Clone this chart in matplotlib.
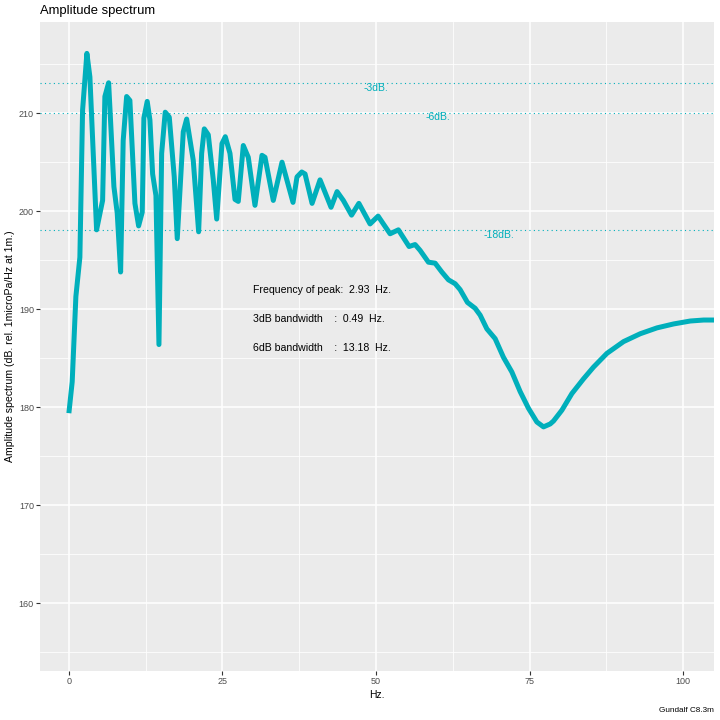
import numpy as np
import matplotlib
matplotlib.use("Agg")
import matplotlib.pyplot as plt
from matplotlib.ticker import MultipleLocator

plt.rcParams['font.family'] = ['Liberation Sans', 'DejaVu Sans']

# spectrum (Hz, dB)
freq = [0.0, 0.54, 1.14, 1.79, 2.23, 2.93, 3.42, 4.51, 5.49, 5.86, 6.47, 7.33,
        7.87, 8.42, 8.84, 9.40, 9.93, 10.75, 11.35, 11.94, 12.21, 12.75, 13.19,
        13.63, 14.17, 14.66, 15.10, 15.68, 16.34, 17.15, 17.64, 18.62, 19.17,
        20.24, 21.12, 21.61, 22.04, 22.69, 23.50, 24.06, 24.92, 25.46, 26.22,
        27.04, 27.57, 28.39, 29.20, 30.29, 31.43, 31.92, 33.27, 34.69, 36.48,
        37.13, 37.90, 38.44, 39.58, 40.88, 42.67, 43.65, 44.67, 46.01, 47.20,
        49.02, 50.33, 51.19, 52.28, 53.63, 55.37, 56.35, 57.17, 58.52, 59.61,
        60.70, 61.78, 62.87, 63.68, 64.87, 66.12, 66.94, 68.03, 69.38, 70.73,
        72.10, 73.45, 74.80, 76.17, 77.25, 78.34, 78.88, 80.24, 81.87, 83.76,
        85.39, 87.57, 90.28, 92.99, 95.72, 98.42, 101.14, 103.31, 105.05]
amp = [179.4, 182.6, 191.3, 195.3, 210.3, 216.1, 213.7, 198.1, 201.1, 211.7,
       213.1, 202.5, 199.8, 193.8, 207.2, 211.7, 211.3, 200.8, 198.5, 199.9,
       209.5, 211.2, 209.3, 203.8, 201.6, 186.4, 205.9, 210.1, 209.6, 203.5,
       197.2, 208.1, 209.4, 205.2, 197.9, 205.9, 208.4, 207.8, 203.2, 199.2,
       206.9, 207.6, 205.9, 201.2, 201.0, 206.7, 205.5, 200.6, 205.7, 205.5,
       201.1, 205.0, 200.9, 203.5, 204.0, 203.8, 200.8, 203.2, 200.4, 202.0,
       201.1, 199.6, 200.8, 198.7, 199.5, 198.7, 197.7, 198.1, 196.4, 196.6,
       196.0, 194.8, 194.7, 193.8, 193.0, 192.6, 192.0, 190.7, 190.1, 189.4,
       188.0, 187.0, 185.1, 183.6, 181.6, 179.9, 178.5, 178.0, 178.3, 178.6,
       179.7, 181.4, 182.9, 184.1, 185.5, 186.7, 187.5, 188.1, 188.5, 188.8,
       188.9, 188.9]

peak_db = 216.06
drops = [3, 6, 18]
drop_x = [50, 60, 70]
drop_labels = ["-3dB.", "-6dB.", "-18dB."]
info_lines = ["Frequency of peak:  2.93  Hz.",
              "3dB bandwidth    :  0.49  Hz.",
              "6dB bandwidth    :  13.18  Hz."]
info_y = [192, 189, 186]

teal = "#00AFBB"

fig = plt.figure(figsize=(7.2, 7.2), dpi=100)
ax = fig.add_axes([40/720, 49/720, 674/720, 649/720])
ax.set_facecolor("#EBEBEB")
for s in ax.spines.values():
    s.set_visible(False)

ax.set_xlim(-4.7, 105.0)
ax.set_ylim(153.1, 219.3)
ax.xaxis.set_major_locator(MultipleLocator(25))
ax.xaxis.set_minor_locator(MultipleLocator(12.5))
ax.yaxis.set_major_locator(MultipleLocator(10))
ax.yaxis.set_minor_locator(MultipleLocator(5))
ax.grid(which="major", color="white", linewidth=1.1)
ax.grid(which="minor", color="white", linewidth=0.55)
ax.set_axisbelow(True)
ax.tick_params(which="major", length=2.9, width=0.8, color="#333333",
               labelsize=6.5, labelcolor="#4D4D4D", pad=1.5)
ax.tick_params(which="minor", length=0)

for d, xl, lab in zip(drops, drop_x, drop_labels):
    ax.axhline(peak_db - d, color=teal, linewidth=0.8, linestyle=(0, (1, 3)))
    ax.text(xl, peak_db - d - 0.45, lab, color=teal, fontsize=7.5,
            ha="center", va="center")

ax.plot(freq, amp, color=teal, linewidth=3.6, solid_joinstyle="round",
        solid_capstyle="butt", zorder=3)

for t, y in zip(info_lines, info_y):
    ax.text(30, y, t, fontsize=7.6, ha="left", va="center", color="black")

ax.set_xlabel("Hz.", fontsize=7.5, labelpad=3)
ax.set_ylabel("Amplitude spectrum (dB. rel. 1microPa/Hz at 1m.)", fontsize=7.6,
              labelpad=3)
fig.text(40/720, 1 - 11/720, "Amplitude spectrum", fontsize=9.4,
         ha="left", va="center")
fig.text(714/720, 1 - 710/720, "Gundalf C8.3m", fontsize=5.9,
         ha="right", va="center")

fig.savefig("out.png", dpi=100)
